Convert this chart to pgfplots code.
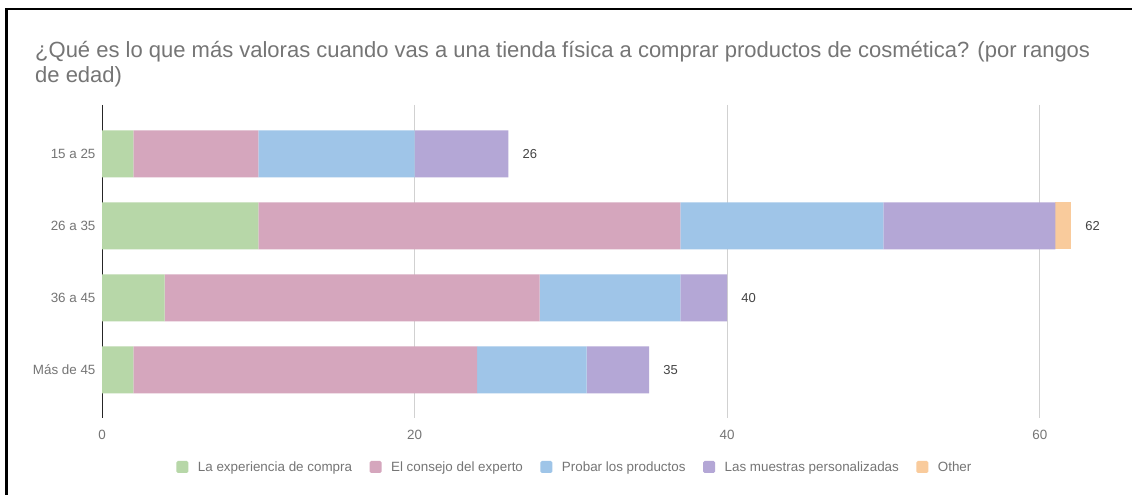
\documentclass[border=0pt]{standalone}
\usepackage{fontspec}
\setmainfont{Liberation Sans}
\usepackage{pgfplots}
\usepackage{pgfplotstable}
\pgfplotsset{compat=1.18}
\definecolor{cA}{HTML}{B7D7A8}
\definecolor{cB}{HTML}{D5A6BD}
\definecolor{cC}{HTML}{9FC5E8}
\definecolor{cD}{HTML}{B4A7D6}
\definecolor{cE}{HTML}{F9CB9C}
\definecolor{tgray}{HTML}{757575}
\definecolor{lgray}{HTML}{444444}
\pgfplotstableread{
y exp cons prob mues other
0 2 8 10 6 0
1 10 27 13 11 1
2 4 24 9 3 0
3 2 22 7 4 0
}\datatable
\begin{document}
\begin{tikzpicture}
\path[use as bounding box] (0pt,0pt) rectangle (1132pt,495pt);
\fill[white] (0pt,0pt) rectangle (1132pt,495pt);
\draw[black, line width=2.5pt] (6.5pt,0pt) -- (6.5pt,486pt) -- (1132pt,486pt);
\node[anchor=base west, inner sep=0pt, text=tgray, font=\fontsize{22}{25}\selectfont] at (35pt,437pt) {¿Qué es lo que más valoras cuando vas a una tienda física a comprar productos de cosmética? (por rangos};
\node[anchor=base west, inner sep=0pt, text=tgray, font=\fontsize{22}{25}\selectfont] at (35pt,412pt) {de edad)};
\begin{axis}[
  at={(102pt,77pt)}, anchor=south west, scale only axis,
  width=1016pt, height=313pt,
  xmin=0, xmax=65, ymin=-0.68, ymax=3.67, y dir=reverse,
  xbar stacked, bar width=47pt,
  ytick={0,1,2,3}, yticklabels={15 a 25,26 a 35,36 a 45,Más de 45},
  xtick={0,20,40,60},
  xmajorgrids, grid style={draw=black!18, line width=0.8pt},
  axis x line*=bottom, axis y line*=left,
  x axis line style={draw=none},
  y axis line style={draw=black!85, line width=0.9pt},
  major tick length=0pt,
  tick label style={font=\fontsize{13.4}{15}\selectfont, text=tgray},
  /pgf/number format/assume math mode=true,
  yticklabel style={xshift=-3pt},
  xticklabel style={yshift=-9pt},
  legend columns=-1,
  legend style={draw=none, at={(axis description cs:0.4655,-0.1565)}, anchor=center,
    font=\fontsize{13.4}{15}\selectfont, text=tgray,
    /tikz/every even column/.append style={column sep=15.5pt}},
  legend image code/.code={\fill[#1, rounded corners=1.5pt] (0pt,-6pt) rectangle (12pt,6pt); \path (19.5pt,0pt);},
]
\addplot[fill=cA, draw=none] table[x=exp, y=y] {\datatable};
\addlegendentry{La experiencia de compra}
\addplot[fill=cB, draw=none] table[x=cons, y=y] {\datatable};
\addlegendentry{El consejo del experto}
\addplot[fill=cC, draw=none] table[x=prob, y=y] {\datatable};
\addlegendentry{Probar los productos}
\addplot[fill=cD, draw=none] table[x=mues, y=y] {\datatable};
\addlegendentry{Las muestras personalizadas}
\addplot[fill=cE, draw=none] table[x=other, y=y] {\datatable};
\addlegendentry{Other}
\end{axis}
\begin{axis}[
  at={(102pt,77pt)}, anchor=south west, scale only axis,
  width=1016pt, height=313pt,
  xmin=0, xmax=65, ymin=-0.68, ymax=3.67, y dir=reverse,
  hide axis,
]
\addplot[draw=none, mark=none, nodes near coords, point meta=explicit symbolic,
  every node near coord/.append style={anchor=west, inner sep=0pt, text=lgray, font=\fontsize{13}{15}\selectfont}]
  coordinates {(26.9,0) [26] (62.9,1) [62] (40.9,2) [40] (35.9,3) [35]};
\end{axis}
\end{tikzpicture}
\end{document}
